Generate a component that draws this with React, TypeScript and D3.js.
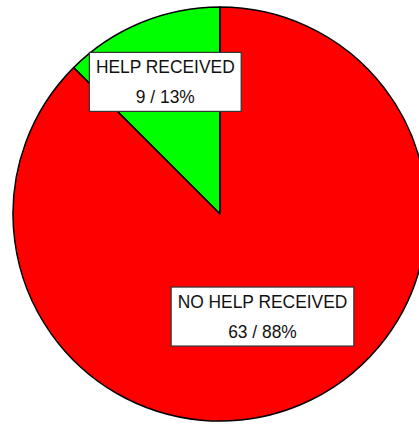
import { useEffect, useRef } from "react";
import * as d3 from "d3";

const categories = ["HELP RECEIVED", "NO HELP RECEIVED"];
const counts = [9, 63];
const percents = [13, 88];
const COLORS = ["#00ff00", "#ff0000"];

const WIDTH = 419;
const HEIGHT = 424;
const CX = 220;
const CY = 214;
const RADIUS = 207;
// distance of each label box from the pie centre
const LABEL_R = [143, 111];
const FONT_SIZE = 19;
const X_SQUEEZE = 0.915;

export default function App() {
  const ref = useRef<SVGSVGElement | null>(null);

  useEffect(() => {
    const svg = d3.select(ref.current);
    svg.selectAll("*").remove();

    const total = d3.sum(counts);
    const data = categories.map((c, i) => ({ name: c, value: counts[i], pct: percents[i] }));

    // first slice ends at 12 o'clock
    const start = -2 * Math.PI * (counts[0] / total);
    const pie = d3
      .pie<any>()
      .sort(null)
      .value((d) => d.value)
      .startAngle(start)
      .endAngle(start + 2 * Math.PI);
    const arcs = pie(data);

    const arc = d3.arc<any>().innerRadius(0).outerRadius(RADIUS);
    const g = svg.append("g").attr("transform", `translate(${CX},${CY})`);

    g.selectAll("path.slice")
      .data(arcs)
      .join("path")
      .attr("class", "slice")
      .attr("d", arc)
      .attr("fill", (_d, i) => COLORS[i])
      .attr("stroke", "#000")
      .attr("stroke-width", 1.5)
      .attr("stroke-linejoin", "round");

    arcs.forEach((a, i) => {
      const [x, y] = d3.arc<any>().innerRadius(LABEL_R[i]).outerRadius(LABEL_R[i]).centroid(a);
      const lg = g.append("g").attr("transform", `translate(${x},${y})`);
      const rect = lg.append("rect").attr("fill", "#fff").attr("stroke", "#333").attr("stroke-width", 1.2);
      const lines = [a.data.name, `${a.data.value} / ${a.data.pct}%`];
      let maxW = 0;
      lines.forEach((s, k) => {
        const t = lg
          .append("text")
          .attr("text-anchor", "middle")
          .attr("y", k === 0 ? -9 : 21)
          .attr("font-family", "'Liberation Sans', Arial, sans-serif")
          .attr("font-size", FONT_SIZE)
          .attr("fill", "#111")
          .text(s);
        const natural = (t.node() as SVGTextElement).getComputedTextLength();
        const w = natural * X_SQUEEZE;
        t.attr("textLength", w).attr("lengthAdjust", "spacingAndGlyphs");
        maxW = Math.max(maxW, w);
      });
      const w = maxW + 13;
      rect.attr("x", -w / 2).attr("y", -29.5).attr("width", w).attr("height", 59);
    });
  }, []);

  return (
    <svg
      ref={ref}
      width={WIDTH}
      height={HEIGHT}
      style={{ position: "absolute", left: 0, top: 0, background: "#fff" }}
    />
  );
}
